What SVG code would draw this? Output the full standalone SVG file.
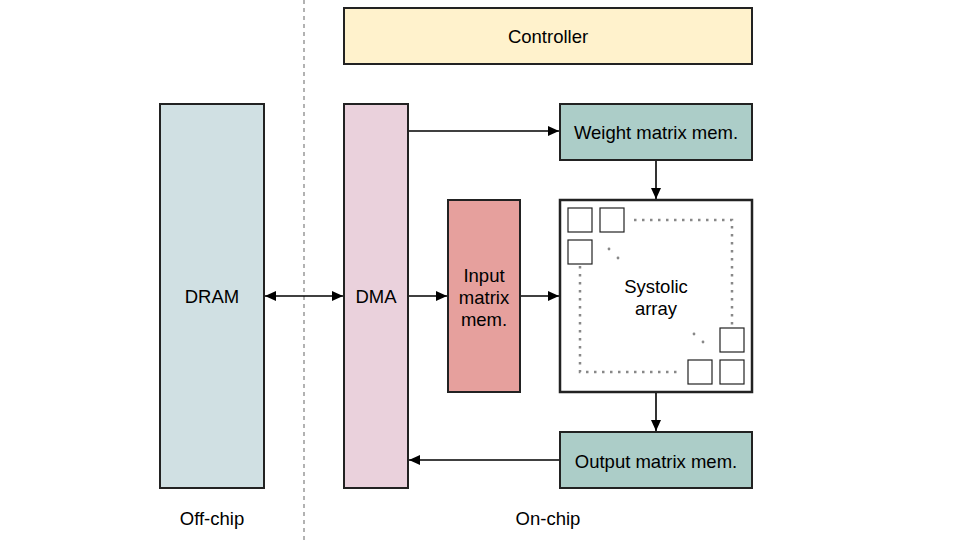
<svg xmlns="http://www.w3.org/2000/svg" width="960" height="540" viewBox="0 0 960 540">
<style>
.box{stroke:#222;stroke-width:2}
.t{font-family:"Liberation Sans",Arial,sans-serif;font-size:18.5px;fill:#000;text-anchor:middle;dominant-baseline:central}
.c{stroke:#000;stroke-width:1.6;fill:none}
.pe{fill:#fff;stroke:#222;stroke-width:1.2}
.dot{stroke:#888;stroke-width:2.5;stroke-dasharray:2.5 5.5;fill:none}
</style>
<defs>
<marker id="ah" viewBox="0 0 10 10" refX="10" refY="5" markerWidth="11" markerHeight="10" markerUnits="userSpaceOnUse" orient="auto-start-reverse" preserveAspectRatio="none">
<path d="M0,0 L10,5 L0,10 z" fill="#000"/>
</marker>
</defs>
<rect width="960" height="540" fill="#fff"/>
<line x1="304" y1="0" x2="304" y2="540" stroke="#999" stroke-width="1.5" stroke-dasharray="4 4"/>
<g id="controller"><rect class="box" x="344" y="8" width="408" height="56" fill="#fff2cc"/><text class="t" x="548" y="36">Controller</text></g>
<g id="dram"><rect class="box" x="160" y="104" width="104" height="384" fill="#d0e0e3"/><text class="t" x="212" y="296">DRAM</text></g>
<g id="dma"><rect class="box" x="344" y="104" width="64" height="384" fill="#ead1dc"/><text class="t" x="376" y="296">DMA</text></g>
<g id="weight"><rect class="box" x="560" y="104" width="192" height="56" fill="#accdc8"/><text class="t" x="656" y="132">Weight matrix mem.</text></g>
<g id="input"><rect class="box" x="448" y="200" width="72" height="192" fill="#e6a09d"/><text class="t" x="484" y="275">Input</text><text class="t" x="484" y="297">matrix</text><text class="t" x="484" y="319">mem.</text></g>
<g id="systolic">
<rect x="560" y="200" width="192" height="192" fill="#fff" stroke="#222" stroke-width="2.5"/>
<rect class="pe" x="568" y="208" width="24" height="24"/>
<rect class="pe" x="600" y="208" width="24" height="24"/>
<rect class="pe" x="568" y="240" width="24" height="24"/>
<rect class="pe" x="720" y="328" width="24" height="24"/>
<rect class="pe" x="688" y="360" width="24" height="24"/>
<rect class="pe" x="720" y="360" width="24" height="24"/>
<path class="dot" d="M634,220 H732 V328"/>
<path class="dot" d="M580,266 V372 H680"/>
<circle cx="609" cy="249" r="1.4" fill="#888"/><circle cx="618" cy="258" r="1.4" fill="#888"/>
<circle cx="694" cy="334" r="1.4" fill="#888"/><circle cx="703" cy="342" r="1.4" fill="#888"/>
<text class="t" x="656" y="286">Systolic</text><text class="t" x="656" y="308">array</text>
</g>
<g id="output"><rect class="box" x="560" y="432" width="192" height="56" fill="#accdc8"/><text class="t" x="656" y="461">Output matrix mem.</text></g>
<g id="connectors">
<line class="c" x1="265" y1="296" x2="343" y2="296" marker-start="url(#ah)" marker-end="url(#ah)"/>
<line class="c" x1="409" y1="296" x2="447" y2="296" marker-end="url(#ah)"/>
<line class="c" x1="521" y1="296" x2="559" y2="296" marker-end="url(#ah)"/>
<line class="c" x1="409" y1="131" x2="559" y2="131" marker-end="url(#ah)"/>
<line class="c" x1="656" y1="161" x2="656" y2="199" marker-end="url(#ah)"/>
<line class="c" x1="656" y1="393" x2="656" y2="431" marker-end="url(#ah)"/>
<line class="c" x1="559" y1="460" x2="409" y2="460" marker-end="url(#ah)"/>
</g>
<text class="t" x="212" y="518">Off-chip</text>
<text class="t" x="548" y="518">On-chip</text>
</svg>
